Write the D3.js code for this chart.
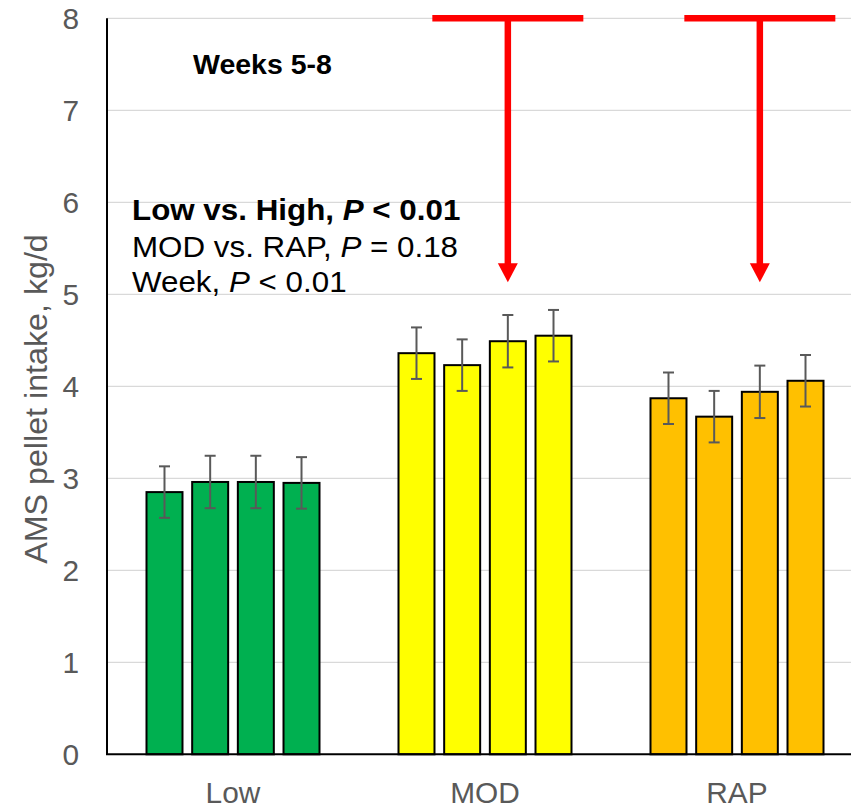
<!DOCTYPE html>
<html>
<head>
<meta charset="utf-8">
<script src="https://cdn.jsdelivr.net/npm/d3@7"></script>
<style>
  html, body { margin: 0; padding: 0; background: #fff; }
  svg { display: block; }
  text { font-family: "Liberation Sans", Arial, sans-serif; }
</style>
</head>
<body>
<svg id="chart" width="851" height="809"></svg>
<script>
// Treatment groups and weeks within each group
const groups = ["Low", "MOD", "RAP"];
const weeks = ["Week 5", "Week 6", "Week 7", "Week 8"];

// Mean AMS pellet intake (kg/d) per week, by group
const lowIntake = [2.85, 2.96, 2.96, 2.95];
const modIntake = [4.36, 4.23, 4.49, 4.55];
const rapIntake = [3.87, 3.67, 3.94, 4.06];

// Standard errors, by group
const lowSE = [0.28, 0.285, 0.285, 0.28];
const modSE = [0.28, 0.28, 0.285, 0.28];
const rapSE = [0.28, 0.28, 0.285, 0.28];

// Bar fill per group
const groupColors = ["#00B050", "#FFFF00", "#FFC000"];

// Y axis ticks
const yTicks = [0, 1, 2, 3, 4, 5, 6, 7, 8];

// Arrows dropping from the top of the axis onto the high-intake groups
const arrows = [
  { group: "MOD", week: "Week 7", from: 8, to: 5.13 },
  { group: "RAP", week: "Week 7", from: 8, to: 5.13 }
];

const intakeByGroup = [lowIntake, modIntake, rapIntake];
const seByGroup = [lowSE, modSE, rapSE];
const rows = [];
groups.forEach((g, gi) => {
  weeks.forEach((w, wi) => {
    rows.push({ group: g, week: w, value: intakeByGroup[gi][wi], se: seByGroup[gi][wi], color: groupColors[gi] });
  });
});

const svg = d3.select("#chart");
const plot = { left: 107, right: 863, top: 18.3, bottom: 754.3 };
const grey = "#595959";

const y = d3.scaleLinear().domain([0, 8]).range([plot.bottom, plot.top]);
const x0 = d3.scaleBand().domain(groups).range([plot.left, plot.right]).padding(0);
const x1 = d3.scaleBand().domain(weeks).range([39.5, x0.bandwidth() - 39.5]).paddingInner(0.212).paddingOuter(0);

// Horizontal gridlines
svg.append("g")
  .selectAll("line")
  .data(yTicks.filter(t => t > 0))
  .join("line")
  .attr("x1", plot.left).attr("x2", 851)
  .attr("y1", d => y(d)).attr("y2", d => y(d))
  .attr("stroke", "#D9D9D9").attr("stroke-width", 1.3);

// Y tick labels
svg.append("g")
  .selectAll("text")
  .data(yTicks)
  .join("text")
  .attr("transform", d => `translate(79,${y(d) + 10.5}) scale(1.03,1)`)
  .attr("text-anchor", "end")
  .attr("font-size", 29)
  .attr("fill", grey)
  .text(d => d);

// Bars
const barG = svg.append("g");
barG.selectAll("rect")
  .data(rows)
  .join("rect")
  .attr("x", d => x0(d.group) + x1(d.week))
  .attr("width", x1.bandwidth())
  .attr("y", d => y(d.value))
  .attr("height", d => y(0) - y(d.value))
  .attr("fill", d => d.color)
  .attr("stroke", "#000")
  .attr("stroke-width", 2);

// Error bars
const errG = svg.append("g").attr("stroke", "#595959").attr("stroke-width", 2).attr("fill", "none");
const cap = 5.5;
rows.forEach(d => {
  const cx = x0(d.group) + x1(d.week) + x1.bandwidth() / 2;
  const yHi = y(d.value + d.se), yLo = y(d.value - d.se);
  errG.append("line").attr("x1", cx).attr("x2", cx).attr("y1", yHi).attr("y2", yLo);
  errG.append("line").attr("x1", cx - cap).attr("x2", cx + cap).attr("y1", yHi).attr("y2", yHi);
  errG.append("line").attr("x1", cx - cap).attr("x2", cx + cap).attr("y1", yLo).attr("y2", yLo);
});

// Axis lines
svg.append("line")
  .attr("x1", plot.left).attr("x2", plot.left)
  .attr("y1", plot.top).attr("y2", plot.bottom)
  .attr("stroke", "#000").attr("stroke-width", 2);
svg.append("line")
  .attr("x1", plot.left - 1).attr("x2", 851)
  .attr("y1", plot.bottom).attr("y2", plot.bottom)
  .attr("stroke", "#000").attr("stroke-width", 2);

// Category labels
svg.append("g")
  .selectAll("text")
  .data(groups)
  .join("text")
  .attr("transform", d => `translate(${x0(d) + x0.bandwidth() / 2},803) scale(1.03,1)`)
  .attr("text-anchor", "middle")
  .attr("font-size", 29)
  .attr("fill", grey)
  .text(d => d);

// Y axis title
svg.append("text")
  .attr("transform", `translate(47,399) rotate(-90) scale(1.04,1)`)
  .attr("text-anchor", "middle")
  .attr("font-size", 31)
  .attr("fill", grey)
  .text("AMS pellet intake, kg/d");

// Statistics note
const stats = [
  { parts: [["Low vs. High, ", false], ["P", true], [" < 0.01", false]], bold: true, baseline: 220 },
  { parts: [["MOD vs. RAP, ", false], ["P", true], [" = 0.18", false]], bold: false, baseline: 256.5 },
  { parts: [["Week, ", false], ["P", true], [" < 0.01", false]], bold: false, baseline: 292 }
];
stats.forEach(s => {
  const t = svg.append("text")
    .attr("transform", `translate(132,${s.baseline}) scale(1.045,1)`)
    .attr("font-size", 30)
    .attr("font-weight", s.bold ? "bold" : "normal")
    .attr("fill", "#000");
  s.parts.forEach(([str, italic]) => {
    t.append("tspan").attr("font-style", italic ? "italic" : "normal").text(str);
  });
});

// Period label
svg.append("text")
  .attr("x", 193).attr("y", 73.5)
  .attr("font-size", 28.5)
  .attr("font-weight", "bold")
  .attr("fill", "#000")
  .text("Weeks 5-8");

// Red arrows
const arrowG = svg.append("g");
const barHalf = 75.5, head = 10, headLen = 19;
arrows.forEach(a => {
  const ax = x0(a.group) + x1(a.week) + x1.bandwidth() / 2;
  const yTop = y(a.from), yTip = y(a.to);
  arrowG.append("line")
    .attr("x1", ax - barHalf).attr("x2", ax + barHalf)
    .attr("y1", yTop).attr("y2", yTop)
    .attr("stroke", "#FF0000").attr("stroke-width", 6.5);
  arrowG.append("line")
    .attr("x1", ax).attr("x2", ax)
    .attr("y1", yTop).attr("y2", yTip - headLen + 1)
    .attr("stroke", "#FF0000").attr("stroke-width", 6.5);
  arrowG.append("path")
    .attr("d", `M${ax - head},${yTip - headLen} L${ax + head},${yTip - headLen} L${ax},${yTip} Z`)
    .attr("fill", "#FF0000");
});
</script>
</body>
</html>
